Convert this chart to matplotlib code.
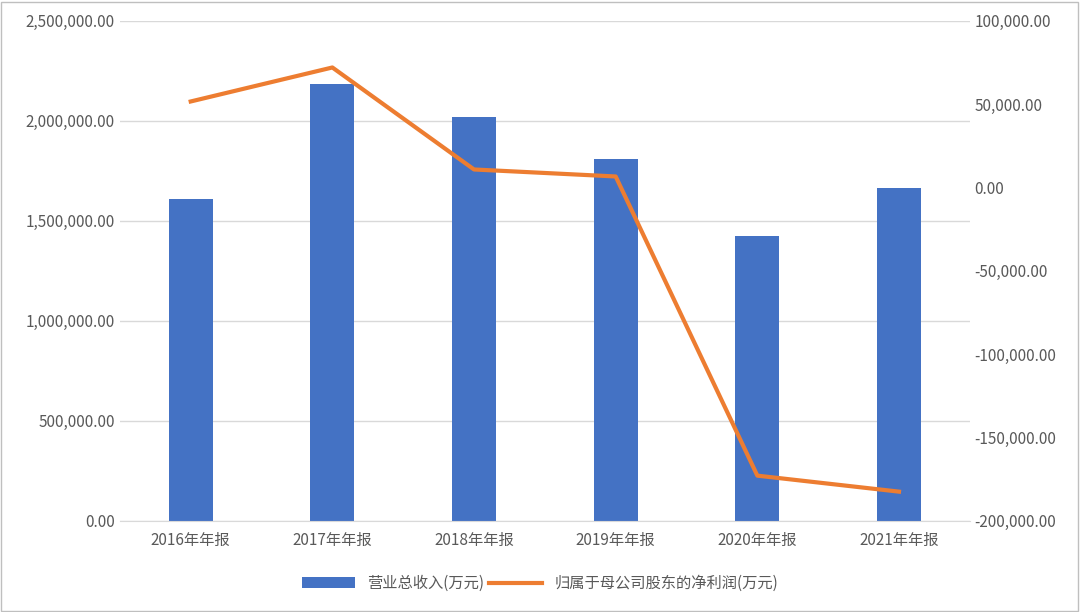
import matplotlib
matplotlib.use("Agg")
import matplotlib.pyplot as plt
from matplotlib.ticker import FuncFormatter

plt.rcParams['font.family'] = ['Noto Sans CJK SC', 'DejaVu Sans']

categories = ["2016年年报", "2017年年报", "2018年年报", "2019年年报", "2020年年报", "2021年年报"]
revenue = [1610000, 2185000, 2020000, 1810000, 1425000, 1665000]
profit = [51600, 72000, 10800, 6600, -172900, -182500]

fig = plt.figure(figsize=(10.8, 6.12), dpi=100)
ax = fig.add_axes([0.111, 0.149, 0.787, 0.817])
ax2 = ax.twinx()
x = range(len(categories))
b = ax.bar(x, revenue, width=0.31, color='#4472C4', label='营业总收入(万元)', zorder=2)
l, = ax2.plot(x, profit, color='#ED7D31', lw=3, label='归属于母公司股东的净利润(万元)', zorder=3)
ax.set_zorder(1); ax2.set_zorder(2); ax2.patch.set_visible(False)

ax.set_ylim(0, 2500000)
ax.set_yticks(range(0, 2500001, 500000))
ax2.set_ylim(-200000, 100000)
ax2.set_yticks(range(-200000, 100001, 50000))
fmt = FuncFormatter(lambda v, p: f"{v:,.2f}")
ax.yaxis.set_major_formatter(fmt)
ax2.yaxis.set_major_formatter(fmt)
ax.set_xlim(-0.5, 5.5)
ax.set_xticks(list(x))
ax.set_xticklabels(categories)
ax.grid(axis='y', color='#D9D9D9', lw=1, zorder=0)
for a in (ax, ax2):
    for s in a.spines.values():
        s.set_visible(False)
    a.tick_params(length=0, labelsize=11, colors='#595959')
ax.spines['bottom'].set_visible(True)
ax.spines['bottom'].set_color('#D9D9D9')
ax.tick_params(axis='x', pad=8)

fig.legend([b, l], [b.get_label(), l.get_label()], loc='lower center',
           bbox_to_anchor=(0.5, 0.01), ncol=2, frameon=False, fontsize=11,
           labelcolor='#595959', handlelength=3.5, columnspacing=0.3)
fig.patches.append(plt.Rectangle((0.001, 0.002), 0.997, 0.995, transform=fig.transFigure,
                                 fill=False, ec='#BFBFBF', lw=1))
fig.savefig("out.png", dpi=100)
